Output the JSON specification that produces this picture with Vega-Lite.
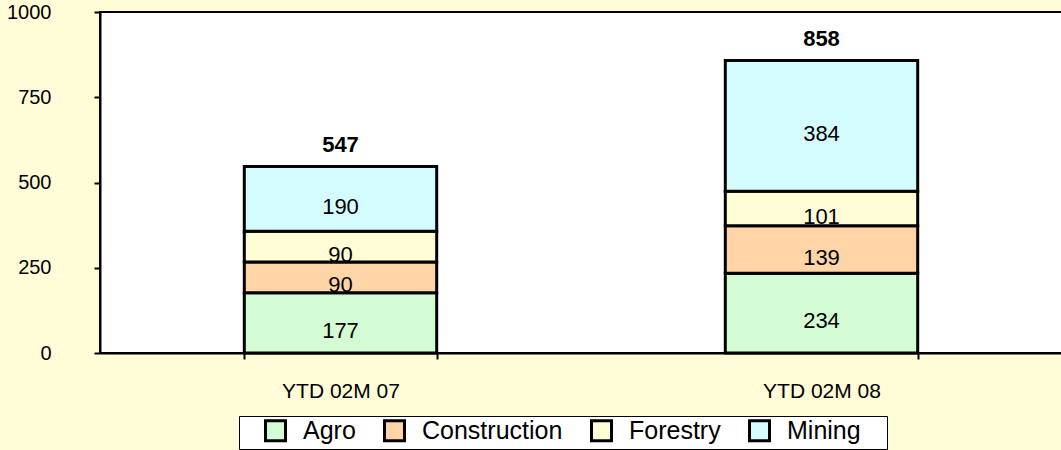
{
  "$schema": "https://vega.github.io/schema/vega-lite/v6.json",
  "width": 962,
  "height": 341,
  "autosize": "none",
  "padding": {"left": 100, "top": 12, "right": 0, "bottom": 97},
  "background": "#FFFCD7",
  "config": {
    "view": {"fill": "white", "stroke": "black", "strokeWidth": 2},
    "font": "Liberation Sans",
    "axis": {"domainColor": "black", "domainWidth": 2, "tickColor": "black", "tickWidth": 2, "labelColor": "black", "grid": false, "title": null, "labelFont": "Liberation Sans"},
    "legend": {"labelFont": "Liberation Sans"}
  },
  "data": {"values": [
    {"period": "YTD 02M 07", "sector": "Agro", "value": 177},
    {"period": "YTD 02M 07", "sector": "Construction", "value": 90},
    {"period": "YTD 02M 07", "sector": "Forestry", "value": 90},
    {"period": "YTD 02M 07", "sector": "Mining", "value": 190},
    {"period": "YTD 02M 08", "sector": "Agro", "value": 234},
    {"period": "YTD 02M 08", "sector": "Construction", "value": 139},
    {"period": "YTD 02M 08", "sector": "Forestry", "value": 101},
    {"period": "YTD 02M 08", "sector": "Mining", "value": 384}
  ]},
  "encoding": {
    "x": {"field": "period", "type": "nominal", "scale": {"paddingInner": 0.6, "paddingOuter": 0.3},
      "axis": {"labelAngle": 0, "tickBand": "extent", "tickSize": 6, "labelPadding": 21, "labelFontSize": 21, "title": null}}
  },
  "layer": [
    {
      "mark": {"type": "bar", "stroke": "black", "strokeWidth": 3},
      "encoding": {
        "y": {"field": "value", "type": "quantitative", "stack": "zero", "scale": {"domain": [0, 1000]},
          "axis": {"values": [0, 250, 500, 750, 1000], "format": "d", "tickSize": 6, "labelPadding": 43, "labelFontSize": 20, "title": null}},
        "color": {"field": "sector", "type": "nominal",
          "scale": {"domain": ["Agro", "Construction", "Forestry", "Mining"], "range": ["#D4FCD4", "#FFD4A6", "#FFFCD6", "#D4FCFF"]},
          "legend": {"orient": "none", "legendX": 139, "legendY": 404, "direction": "horizontal",
            "title": " ", "titleOrient": "right", "titleFontSize": 25, "titlePadding": 24,
            "fillColor": "white", "strokeColor": "black", "padding": 2,
            "symbolType": "square", "symbolSize": 400, "symbolStrokeColor": "black", "symbolStrokeWidth": 3, "symbolOffset": 22,
            "labelFontSize": 25, "labelColor": "black", "labelOffset": 15, "columnPadding": 4}},
        "order": {"field": "sector", "sort": "ascending"}
      }
    },
    {
      "mark": {"type": "text", "baseline": "middle", "dy": 8, "fontSize": 22, "color": "black"},
      "encoding": {
        "y": {"field": "value", "type": "quantitative", "stack": "zero", "bandPosition": 0.5},
        "detail": {"field": "sector"},
        "order": {"field": "sector", "sort": "ascending"},
        "text": {"field": "value"}
      }
    },
    {
      "transform": [{"aggregate": [{"op": "sum", "field": "value", "as": "total"}], "groupby": ["period"]}],
      "mark": {"type": "text", "baseline": "alphabetic", "dy": -14, "fontSize": 22, "fontWeight": "bold", "color": "black"},
      "encoding": {
        "y": {"field": "total", "type": "quantitative"},
        "text": {"field": "total"}
      }
    }
  ]
}
